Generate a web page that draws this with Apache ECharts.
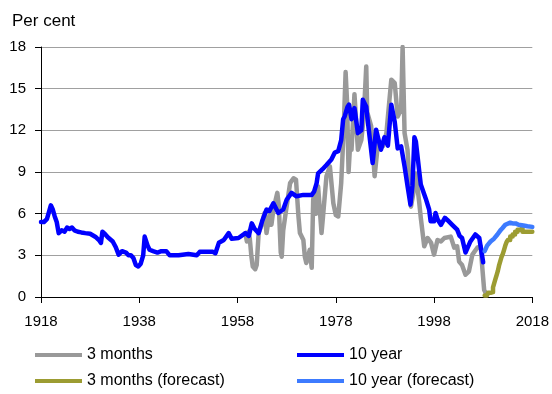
<!DOCTYPE html>
<html>
<head>
<meta charset="utf-8">
<script src="https://cdn.jsdelivr.net/npm/echarts@6/dist/echarts.min.js"></script>
<style>
  html, body { margin: 0; padding: 0; background: #fff; }
  #chart { width: 552px; height: 394px; }
</style>
</head>
<body>
<div id="chart"></div>
<script>
// Interest rates, per cent: [year, rate]
const BASE_YEAR = 1918;
const yearTicks = [1918, 1938, 1958, 1978, 1998, 2018];
const rateTicks = [0, 3, 6, 9, 12, 15, 18];

const threeMonths = [
  [1959.6,4.6],[1959.9,4.0],[1960.2,4.7],[1960.5,4.2],[1960.8,3.0],[1961.1,2.2],[1961.6,2.0],[1961.9,2.3],
  [1962.3,4.6],[1963.0,5.3],[1963.5,6.05],[1963.9,4.6],[1964.3,5.5],[1964.6,6.05],[1964.9,5.2],[1965.3,6.3],
  [1966.1,7.5],[1966.4,6.6],[1966.8,3.2],[1967.0,2.9],[1967.3,4.8],[1967.7,5.8],[1968.3,7.25],[1968.7,8.2],
  [1969.4,8.55],[1969.9,8.45],[1970.4,5.8],[1970.7,4.6],[1971.4,4.1],[1971.7,2.9],[1972.0,2.45],[1972.7,3.4],
  [1973.1,2.1],[1973.4,7.0],[1973.7,7.5],[1974.0,6.0],[1974.4,7.95],[1975.1,4.6],[1975.4,5.8],[1976.1,8.7],
  [1976.8,9.4],[1977.5,6.75],[1978.0,5.9],[1978.5,5.8],[1979.1,8.2],[1979.6,12.0],[1980.0,16.2],[1980.3,14.0],
  [1980.6,9.0],[1981.0,11.5],[1981.2,10.6],[1981.8,14.6],[1982.5,10.6],[1983.2,11.3],[1983.7,13.0],[1984.2,16.6],
  [1984.4,13.3],[1985.2,12.3],[1985.9,8.7],[1986.6,11.1],[1987.6,10.85],[1988.3,11.8],[1989.3,15.65],[1990.0,15.4],
  [1990.6,13.0],[1991.3,13.5],[1991.6,18.0],[1992.0,11.8],[1992.6,10.6],[1993.3,6.5],[1993.8,7.5],[1994.3,8.9],
  [1995.0,6.75],[1995.3,5.7],[1996.0,3.65],[1996.7,4.25],[1997.4,3.9],[1998.0,3.05],[1998.7,4.1],[1999.4,4.0],
  [2000.1,4.25],[2001.4,4.35],[2002.1,3.55],[2002.7,3.65],[2003.1,2.55],[2003.7,2.3],[2004.4,1.6],[2005.1,1.85],
  [2005.8,3.05],[2006.8,3.55],[2007.5,3.65],[2007.8,2.2],[2008.2,0.5],[2008.5,0.3]
];

const tenYear = [
  [1918.0,5.4],[1918.6,5.4],[1919.2,5.6],[1919.6,6.1],[1920.0,6.6],[1920.4,6.3],[1920.8,5.8],[1921.2,5.4],
  [1921.6,4.6],[1922.2,4.8],[1922.8,4.7],[1923.3,5.0],[1923.8,4.9],[1924.3,5.0],[1924.8,4.8],[1925.5,4.7],
  [1926.2,4.65],[1927.0,4.6],[1928.0,4.55],[1929.2,4.3],[1929.8,4.1],[1930.2,3.9],[1930.5,4.7],[1931.1,4.5],
  [1931.6,4.3],[1932.0,4.2],[1932.6,4.0],[1933.2,3.6],[1933.8,3.05],[1934.5,3.3],[1935.3,3.2],[1935.8,3.0],
  [1936.3,3.0],[1936.8,2.8],[1937.3,2.3],[1937.8,2.2],[1938.3,2.4],[1938.8,3.0],[1939.1,4.35],[1939.7,3.7],
  [1940.1,3.4],[1940.8,3.3],[1941.7,3.2],[1942.5,3.3],[1943.5,3.3],[1944.2,3.0],[1946.0,3.0],[1948.0,3.1],
  [1949.7,3.0],[1950.3,3.25],[1953.0,3.25],[1953.5,3.15],[1954.2,3.9],[1955.2,4.1],[1956.2,4.6],[1956.8,4.2],
  [1958.2,4.25],[1959.6,4.6],[1960.3,4.4],[1960.9,5.3],[1961.5,4.9],[1962.3,4.6],[1963.0,5.45],[1963.9,6.3],
  [1964.5,6.2],[1965.3,6.75],[1966.3,6.05],[1967.3,6.3],[1968.0,7.0],[1969.0,7.5],[1970.0,7.25],[1971.4,7.35],
  [1973.1,7.35],[1973.6,7.6],[1974.1,8.2],[1974.4,8.9],[1975.3,9.2],[1976.1,9.5],[1977.1,9.9],[1977.8,10.4],
  [1978.5,10.5],[1979.1,11.3],[1979.5,12.8],[1979.8,13.0],[1980.4,13.7],[1980.7,13.85],[1981.2,12.8],[1981.8,13.6],
  [1982.5,11.8],[1983.2,12.0],[1983.5,14.2],[1984.2,13.7],[1984.6,12.4],[1984.9,12.5],[1985.5,9.65],[1986.2,12.05],
  [1986.6,12.0],[1987.2,10.6],[1987.9,11.5],[1988.6,10.9],[1989.3,13.85],[1990.0,12.6],[1990.6,10.7],[1991.3,10.85],
  [1992.0,9.4],[1992.6,8.0],[1993.2,6.65],[1993.6,8.0],[1994.0,11.5],[1994.3,11.2],[1995.0,9.0],[1995.3,8.1],
  [1996.3,7.1],[1997.0,6.3],[1997.3,5.45],[1998.0,5.45],[1998.3,6.05],[1998.7,5.6],[1999.4,5.2],[2000.2,5.7],
  [2000.7,5.55],[2001.7,5.2],[2002.7,4.85],[2003.2,4.4],[2003.7,4.25],[2004.4,3.2],[2005.4,4.0],[2006.4,4.5],
  [2007.2,4.25],[2007.5,4.35],[2008.0,2.5]
];

const threeMonthsForecast = [
  [2008.3,0.1],[2008.75,0.1],[2009.0,0.3],[2009.5,0.35],[2010.0,0.7],[2010.25,1.0],[2010.5,1.3],[2010.75,1.6],
  [2011.0,1.9],[2011.25,2.3],[2011.5,2.6],[2011.75,2.9],[2012.0,3.1],[2012.25,3.4],[2012.5,3.7],[2012.75,3.95],
  [2013.0,4.1],[2013.5,4.35],[2014.0,4.5],[2014.5,4.7],[2015.0,4.85],[2015.5,4.95],[2016.0,4.7],[2017.0,4.7],
  [2018.0,4.7]
];

const tenYearForecast = [
  [2008.3,3.3],[2008.8,3.7],[2009.5,4.0],[2010.2,4.2],[2010.9,4.5],[2011.5,4.8],[2011.9,4.95],[2012.5,5.2],
  [2012.9,5.3],[2013.5,5.35],[2014.0,5.3],[2014.6,5.3],[2015.2,5.2],[2015.6,5.2],[2016.2,5.15],[2017.0,5.1],
  [2018.0,5.05]
];

const toAxis = arr => arr.map(([y, v]) => [y - BASE_YEAR, v]);

const FONT = "'Liberation Sans', Arial, sans-serif";
const COLORS = {
  threeMonths: '#999999',
  tenYear: '#0000ff',
  threeMonthsForecast: '#9c9c32',
  tenYearForecast: '#3d7bff'
};

function lineSeries(name, data, color, extra) {
  return Object.assign({
    name: name,
    type: 'line',
    data: toAxis(data),
    showSymbol: false,
    symbol: 'none',
    lineStyle: { color: color, width: 4.5, cap: 'round', join: 'round' },
    itemStyle: { color: color },
    emphasis: { disabled: true },
    animation: false
  }, extra || {});
}

const legendCommon = {
  orient: 'vertical',
  top: 347,
  padding: 0,
  itemGap: 10,
  itemWidth: 47,
  itemHeight: 4,
  icon: 'rect',
  textStyle: { fontFamily: FONT, fontSize: 16, color: '#000' },
  selectedMode: false
};

const chart = echarts.init(document.getElementById('chart'), null, { renderer: 'canvas' });
chart.setOption({
  animation: false,
  backgroundColor: '#fff',
  title: {
    text: 'Per cent',
    left: 7,
    top: 8,
    textStyle: { fontFamily: FONT, fontSize: 17, fontWeight: 'normal', color: '#000' }
  },
  legend: [
    Object.assign({ left: 35, data: ['3 months', '3 months (forecast)'] }, legendCommon),
    Object.assign({ left: 297, data: ['10 year', '10 year (forecast)'] }, legendCommon)
  ],
  grid: { left: 41, right: 17, top: 47, bottom: 97, containLabel: false },
  xAxis: {
    type: 'value',
    min: yearTicks[0] - BASE_YEAR,
    max: yearTicks[yearTicks.length - 1] - BASE_YEAR,
    interval: yearTicks[1] - yearTicks[0],
    axisLine: { lineStyle: { color: '#000', width: 1 } },
    axisTick: { show: true, length: 6, lineStyle: { color: '#000' } },
    splitLine: { show: false },
    axisLabel: {
      margin: 17,
      fontFamily: FONT, fontSize: 15, color: '#000',
      formatter: v => String(v + BASE_YEAR)
    }
  },
  yAxis: {
    type: 'value',
    min: rateTicks[0],
    max: rateTicks[rateTicks.length - 1],
    interval: rateTicks[1] - rateTicks[0],
    axisLine: { show: true, lineStyle: { color: '#000', width: 1 } },
    axisTick: { show: true, length: 6, lineStyle: { color: '#000' } },
    splitLine: { show: true, lineStyle: { color: '#a0a0a0', width: 1 } },
    axisLabel: { margin: 15, fontFamily: FONT, fontSize: 15, color: '#000' }
  },
  series: [
    lineSeries('3 months', threeMonths, COLORS.threeMonths),
    lineSeries('10 year', tenYear, COLORS.tenYear),
    lineSeries('3 months (forecast)', threeMonthsForecast, COLORS.threeMonthsForecast, { step: 'end' }),
    lineSeries('10 year (forecast)', tenYearForecast, COLORS.tenYearForecast)
  ]
});
</script>
</body>
</html>
